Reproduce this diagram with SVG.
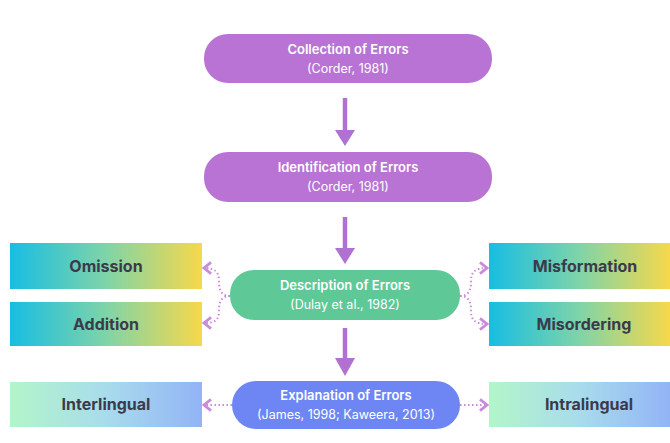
<svg xmlns="http://www.w3.org/2000/svg" width="670" height="443" viewBox="0 0 670 443">
  <defs>
    <linearGradient id="gCY" x1="0" y1="0" x2="1" y2="0">
      <stop offset="0" stop-color="#17bde3"/>
      <stop offset="0.5" stop-color="#7fd4a8"/>
      <stop offset="1" stop-color="#f7d84a"/>
    </linearGradient>
    <linearGradient id="gGB" x1="0" y1="0" x2="1" y2="0">
      <stop offset="0" stop-color="#b3f5c9"/>
      <stop offset="0.5" stop-color="#a8dcec"/>
      <stop offset="1" stop-color="#92b4f6"/>
    </linearGradient>
    <marker id="dotHead" viewBox="0 0 10 10" refX="8" refY="5" markerWidth="7" markerHeight="7" orient="auto">
      <path d="M3,1 L8,5 L3,9" fill="none" stroke="#c98ad9" stroke-width="2"/>
    </marker>
    <style>
      .pill-purple { fill: #b873d5; }
      .pill-green { fill: #5ec897; }
      .pill-blue { fill: #6e86f4; }
      .t-title { font-family: Inter, "Open Sans", sans-serif; font-weight: 600; font-size: 13px; fill: #ffffff; text-anchor: middle; }
      .t-sub { font-family: Inter, "Open Sans", sans-serif; font-size: 12.5px; fill: #ffffff; text-anchor: middle; }
      .t-box { font-family: Inter, "Open Sans", sans-serif; font-weight: 700; font-size: 16px; fill: #3b3a4c; text-anchor: middle; }
      .main-line { stroke: #b071d0; stroke-width: 4.5; fill: none; }
      .main-head { fill: #b071d0; }
      .dotted { stroke: #c98ad9; stroke-width: 2; stroke-dasharray: 1.5 2.5; fill: none; marker-end: url(#dotHead); }
    </style>
  </defs>
  <rect width="670" height="443" fill="#ffffff"/>

  <g id="connectors">
    <line class="main-line" x1="345" y1="98" x2="345" y2="132"/>
    <polygon class="main-head" points="335,130 355,130 345,146"/>
    <line class="main-line" x1="345" y1="217" x2="345" y2="250"/>
    <polygon class="main-head" points="335,248 355,248 345,264"/>
    <line class="main-line" x1="345" y1="328" x2="345" y2="360"/>
    <polygon class="main-head" points="335,358 355,358 345,376"/>

    <path class="dotted" d="M230,296 C219,296 219,286 219,281 C219,272 215,268 204,268"/>
    <path class="dotted" d="M230,296 C219,296 219,306 219,311 C219,320 215,323 204,323"/>
    <path class="dotted" d="M460,296 C471,296 471,286 471,281 C471,272 475,268 487,268"/>
    <path class="dotted" d="M460,296 C471,296 471,306 471,311 C471,320 475,324 487,324"/>

    <path class="dotted" d="M232,405 L204,405"/>
    <path class="dotted" d="M460,405 L487,405"/>
  </g>

  <g id="collection">
    <rect class="pill-purple" x="204" y="34" width="288" height="49" rx="24"/>
    <text class="t-title" x="348" y="54">Collection of Errors</text>
    <text class="t-sub" x="348" y="73">(Corder, 1981)</text>
  </g>

  <g id="identification">
    <rect class="pill-purple" x="204" y="152" width="288" height="50" rx="24"/>
    <text class="t-title" x="348" y="172">Identification of Errors</text>
    <text class="t-sub" x="348" y="191">(Corder, 1981)</text>
  </g>

  <g id="description">
    <rect class="pill-green" x="230" y="270" width="230" height="50" rx="24"/>
    <text class="t-title" x="345" y="290">Description of Errors</text>
    <text class="t-sub" x="345" y="309">(Dulay et al., 1982)</text>
  </g>

  <g id="explanation">
    <rect class="pill-blue" x="232" y="381" width="228" height="48" rx="24"/>
    <text class="t-title" x="346" y="400">Explanation of Errors</text>
    <text class="t-sub" x="346" y="419">(James, 1998; Kaweera, 2013)</text>
  </g>

  <g id="omission">
    <rect x="10" y="243" width="192" height="46" fill="url(#gCY)"/>
    <text class="t-box" x="106" y="272">Omission</text>
  </g>

  <g id="addition">
    <rect x="10" y="302" width="192" height="44" fill="url(#gCY)"/>
    <text class="t-box" x="106" y="330">Addition</text>
  </g>

  <g id="misformation">
    <rect x="489" y="243" width="181" height="46" fill="url(#gCY)"/>
    <text class="t-box" x="585" y="272">Misformation</text>
  </g>

  <g id="misordering">
    <rect x="489" y="302" width="181" height="44" fill="url(#gCY)"/>
    <text class="t-box" x="584" y="330">Misordering</text>
  </g>

  <g id="interlingual">
    <rect x="10" y="382" width="192" height="45" fill="url(#gGB)"/>
    <text class="t-box" x="106" y="410">Interlingual</text>
  </g>

  <g id="intralingual">
    <rect x="489" y="382" width="181" height="45" fill="url(#gGB)"/>
    <text class="t-box" x="589" y="410">Intralingual</text>
  </g>
</svg>
